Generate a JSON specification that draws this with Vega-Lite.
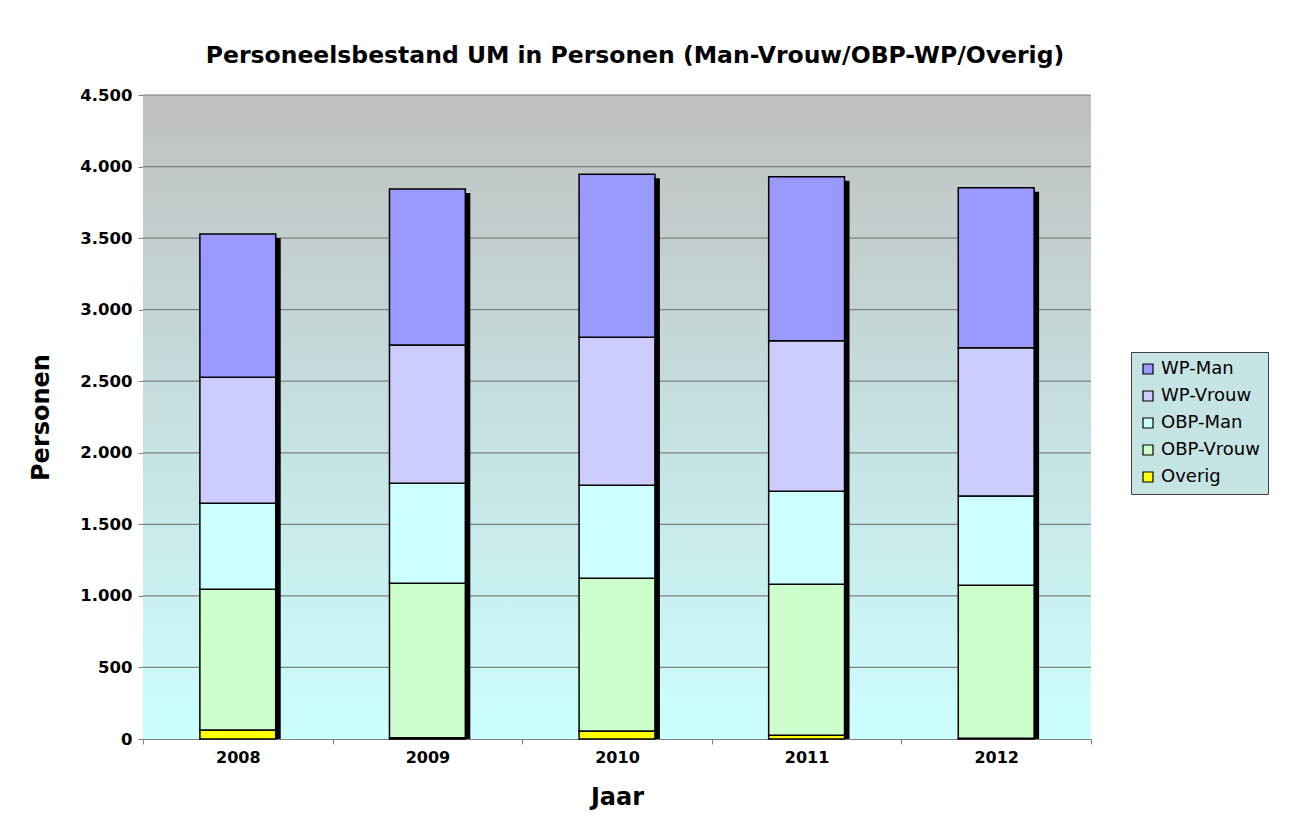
{
  "$schema": "https://vega.github.io/schema/vega-lite/v6.json",
  "width": 948,
  "height": 644,
  "autosize": "none",
  "padding": {"left": 143, "top": 95, "right": 200, "bottom": 82},
  "background": "white",
  "title": {
    "text": "Personeelsbestand UM in Personen (Man-Vrouw/OBP-WP/Overig)",
    "font": "DejaVu Sans",
    "fontSize": 23.5,
    "fontWeight": "bold",
    "color": "#000000",
    "anchor": "middle",
    "dx": 18,
    "offset": 20
  },
  "config": {
    "view": {"stroke": null},
    "font": "DejaVu Sans"
  },
  "datasets": {
    "personeel": [
      {"jaar": "2008", "categorie": "Overig", "stapel": 1, "personen": 63},
      {"jaar": "2008", "categorie": "OBP-Vrouw", "stapel": 2, "personen": 983},
      {"jaar": "2008", "categorie": "OBP-Man", "stapel": 3, "personen": 601},
      {"jaar": "2008", "categorie": "WP-Vrouw", "stapel": 4, "personen": 880},
      {"jaar": "2008", "categorie": "WP-Man", "stapel": 5, "personen": 1002},
      {"jaar": "2009", "categorie": "Overig", "stapel": 1, "personen": 8},
      {"jaar": "2009", "categorie": "OBP-Vrouw", "stapel": 2, "personen": 1080},
      {"jaar": "2009", "categorie": "OBP-Man", "stapel": 3, "personen": 699},
      {"jaar": "2009", "categorie": "WP-Vrouw", "stapel": 4, "personen": 966},
      {"jaar": "2009", "categorie": "WP-Man", "stapel": 5, "personen": 1090},
      {"jaar": "2010", "categorie": "Overig", "stapel": 1, "personen": 56},
      {"jaar": "2010", "categorie": "OBP-Vrouw", "stapel": 2, "personen": 1067},
      {"jaar": "2010", "categorie": "OBP-Man", "stapel": 3, "personen": 650},
      {"jaar": "2010", "categorie": "WP-Vrouw", "stapel": 4, "personen": 1034},
      {"jaar": "2010", "categorie": "WP-Man", "stapel": 5, "personen": 1139},
      {"jaar": "2011", "categorie": "Overig", "stapel": 1, "personen": 26},
      {"jaar": "2011", "categorie": "OBP-Vrouw", "stapel": 2, "personen": 1055},
      {"jaar": "2011", "categorie": "OBP-Man", "stapel": 3, "personen": 650},
      {"jaar": "2011", "categorie": "WP-Vrouw", "stapel": 4, "personen": 1052},
      {"jaar": "2011", "categorie": "WP-Man", "stapel": 5, "personen": 1146},
      {"jaar": "2012", "categorie": "Overig", "stapel": 1, "personen": 5},
      {"jaar": "2012", "categorie": "OBP-Vrouw", "stapel": 2, "personen": 1069},
      {"jaar": "2012", "categorie": "OBP-Man", "stapel": 3, "personen": 624},
      {"jaar": "2012", "categorie": "WP-Vrouw", "stapel": 4, "personen": 1036},
      {"jaar": "2012", "categorie": "WP-Man", "stapel": 5, "personen": 1118}
    ],
    "rasterlijnen": [
      {"personen": 500}, {"personen": 1000}, {"personen": 1500}, {"personen": 2000},
      {"personen": 2500}, {"personen": 3000}, {"personen": 3500}, {"personen": 4000}, {"personen": 4500}
    ]
  },
  "data": {"name": "personeel"},
  "layer": [
    {
      "data": {"values": [{"achtergrond": 1}]},
      "mark": {
        "type": "rect",
        "fill": {
          "gradient": "linear",
          "x1": 0, "y1": 0, "x2": 0, "y2": 1,
          "stops": [
            {"offset": 0, "color": "#C0C0C0"},
            {"offset": 1, "color": "#CCFFFF"}
          ]
        }
      },
      "encoding": {}
    },
    {
      "data": {"name": "rasterlijnen"},
      "mark": {"type": "rule", "color": "#808080", "strokeWidth": 1.2},
      "encoding": {
        "y": {"field": "personen", "type": "quantitative", "title": "Personen"}
      }
    },
    {
      "mark": {"type": "bar", "fill": "#000000", "width": {"band": 0.4}, "xOffset": 5, "yOffset": 4},
      "encoding": {
        "x": {"field": "jaar", "type": "nominal", "title": "Jaar"},
        "y": {"aggregate": "sum", "field": "personen", "type": "quantitative", "title": "Personen"}
      }
    },
    {
      "mark": {"type": "bar", "width": {"band": 0.4}, "stroke": "#000000", "strokeWidth": 1.5},
      "encoding": {
        "x": {
          "field": "jaar",
          "type": "nominal",
          "title": "Jaar",
          "scale": {"paddingInner": 0, "paddingOuter": 0},
          "axis": {
            "titleFontSize": 24,
            "titleFontWeight": "bold",
            "titleColor": "#000000",
            "titlePadding": 20,
            "labelAngle": 0,
            "labelAlign": "center",
            "labelFontSize": 16,
            "labelFontWeight": "bold",
            "labelColor": "#000000",
            "labelPadding": 13,
            "tickBand": "extent",
            "tickColor": "#808080",
            "tickSize": 5,
            "domainColor": "#808080",
            "grid": false
          }
        },
        "y": {
          "field": "personen",
          "type": "quantitative",
          "title": "Personen",
          "stack": "zero",
          "scale": {"domain": [0, 4500], "nice": false},
          "axis": {
            "titleFontSize": 24,
            "titleFontWeight": "bold",
            "titleColor": "#000000",
            "titlePadding": 26,
            "values": [0, 500, 1000, 1500, 2000, 2500, 3000, 3500, 4000, 4500],
            "labelExpr": "replace(format(datum.value, ','), ',', '.')",
            "labelFontSize": 16.5,
            "labelFontWeight": "bold",
            "labelColor": "#000000",
            "labelPadding": 6,
            "tickColor": "#808080",
            "tickSize": 5,
            "domainColor": "#808080",
            "grid": false
          }
        },
        "order": {"field": "stapel", "type": "quantitative", "sort": "ascending"},
        "color": {
          "field": "categorie",
          "type": "nominal",
          "sort": ["WP-Man", "WP-Vrouw", "OBP-Man", "OBP-Vrouw", "Overig"],
          "scale": {
            "domain": ["WP-Man", "WP-Vrouw", "OBP-Man", "OBP-Vrouw", "Overig"],
            "range": ["#9999FF", "#CCCCFF", "#CCFFFF", "#CCFFCC", "#FFFF00"]
          },
          "legend": {
            "title": null,
            "orient": "none",
            "legendX": 988,
            "legendY": 257,
            "padding": 8,
            "fillColor": "#C6E4E4",
            "strokeColor": "#404040",
            "symbolType": "square",
            "symbolSize": 100,
            "symbolStrokeColor": "#000000",
            "symbolStrokeWidth": 1.2,
            "symbolOpacity": 1,
            "labelFontSize": 18,
            "labelColor": "#000000",
            "rowPadding": 9,
            "labelOffset": 4
          }
        }
      }
    }
  ]
}
